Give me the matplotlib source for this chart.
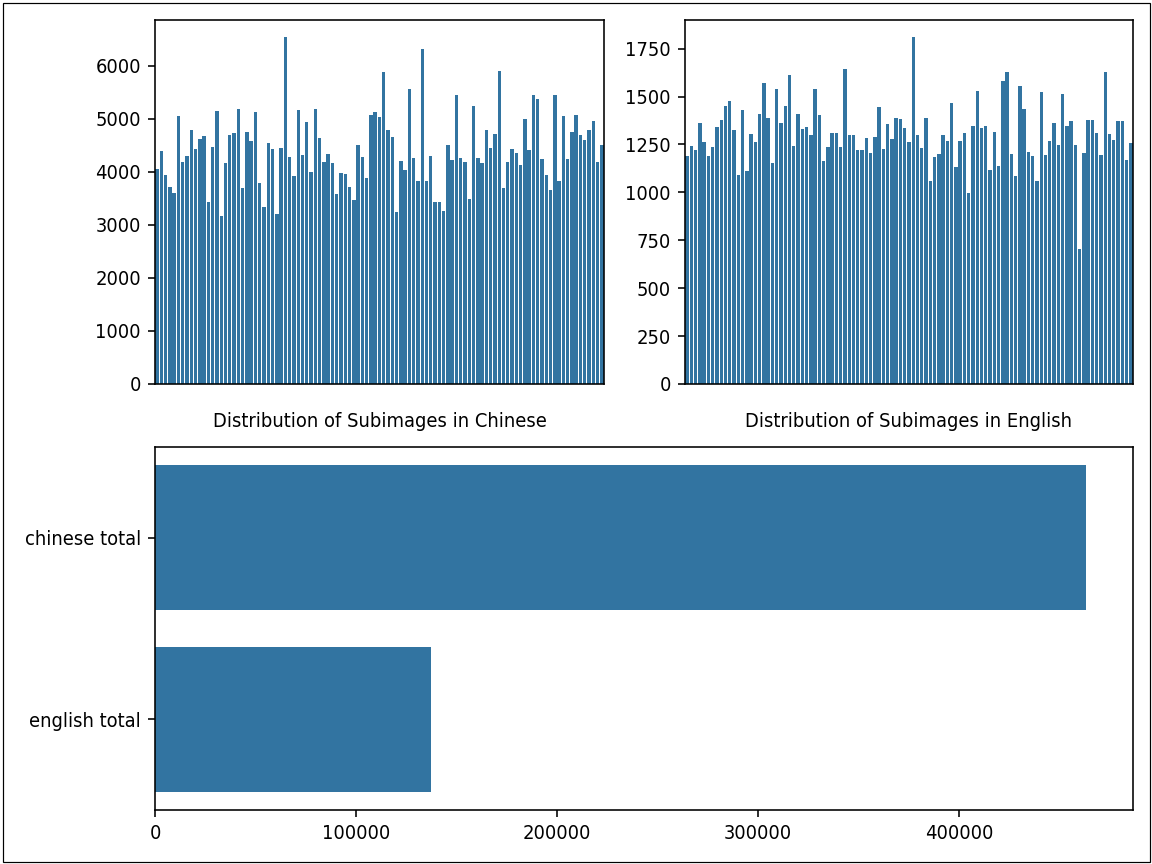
import matplotlib
matplotlib.use("Agg")
import matplotlib.pyplot as plt
import numpy as np

# subimage counts per class (105 bars each)
chinese_counts = [
    4051, 4385, 3937, 3723, 3603, 5061, 4190, 4291, 4783, 4423,
    4613, 4682, 3439, 4461, 5155, 3174, 4165, 4695, 4739, 5193,
    3704, 4745, 4575, 5124, 3792, 3338, 4550, 4436, 3212, 4442,
    6537, 4278, 3925, 5174, 4322, 4934, 3988, 5180, 4632, 4184,
    4335, 4171, 3590, 3982, 3956, 3723, 3464, 4499, 4278, 3893,
    5080, 5136, 5035, 5875, 4783, 4650, 3250, 4209, 4032, 5565,
    4266, 3830, 6323, 3824, 4291, 3426, 3426, 3269, 4499, 4215,
    5452, 4266, 4177, 3483, 5237, 4266, 4171, 4796, 4449, 4720,
    5900, 3704, 4177, 4423, 4348, 4133, 4998, 4411, 5446, 5370,
    4240, 3931, 3653, 5446, 3830, 5048, 4240, 4751, 5067, 4695,
    4594, 4783, 4966, 4177, 4505,
]
english_counts = [
    1191, 1240, 1223, 1361, 1264, 1188, 1237, 1340, 1378, 1450,
    1478, 1324, 1090, 1427, 1111, 1305, 1264, 1411, 1572, 1390,
    1154, 1540, 1361, 1450, 1610, 1240, 1411, 1331, 1340, 1301,
    1537, 1401, 1161, 1235, 1308, 1312, 1235, 1643, 1301, 1298,
    1219, 1219, 1284, 1205, 1291, 1446, 1226, 1359, 1280, 1390,
    1383, 1336, 1264, 1809, 1299, 1233, 1387, 1060, 1182, 1198,
    1299, 1270, 1465, 1130, 1266, 1308, 996, 1345, 1528, 1334,
    1345, 1114, 1317, 1137, 1579, 1628, 1202, 1083, 1553, 1434,
    1209, 1188, 1060, 1521, 1195, 1268, 1364, 1249, 1514, 1345,
    1371, 1249, 702, 1205, 1378, 1378, 1308, 1196, 1628, 1305,
    1273, 1374, 1374, 1170, 1259,
]

total_labels = ["chinese total", "english total"]
total_values = [463450, 137140]

bar_color = "#3274a1"

# the reference text is a bit narrower than plain DejaVu Sans
plt.rcParams['font.stretch'] = 'condensed'

fig = plt.figure(figsize=(8, 6), dpi=144)

ax1 = fig.add_axes([0.1345, 0.5556, 0.3898, 0.4213])
ax2 = fig.add_axes([0.5946, 0.5556, 0.3889, 0.4213])
ax3 = fig.add_axes([0.1345, 0.0625, 0.849, 0.4201])

for ax, counts, lab in [(ax1, chinese_counts, "Distribution of Subimages in Chinese"),
                        (ax2, english_counts, "Distribution of Subimages in English")]:
    idx = np.arange(len(counts))
    ax.bar(idx, counts, width=0.8, color=bar_color)
    ax.set_xlim(-0.5, len(counts) - 0.5)
    ax.set_xticks([])
    ax.set_xlabel(lab, labelpad=14)

pos = np.arange(len(total_labels))
ax3.barh(pos, total_values, height=0.8, color=bar_color)
ax3.set_yticks(pos)
ax3.set_yticklabels(total_labels)
ax3.set_ylim(1.5, -0.5)

# thin frame around the whole picture, like the screenshot
fig.patches.append(plt.Rectangle((2.5 / 1152, 2.5 / 864), 1 - 5 / 1152, 1 - 5 / 864,
                                 transform=fig.transFigure, fill=False,
                                 edgecolor="black", linewidth=0.6))

fig.savefig("out.png", dpi=144)
